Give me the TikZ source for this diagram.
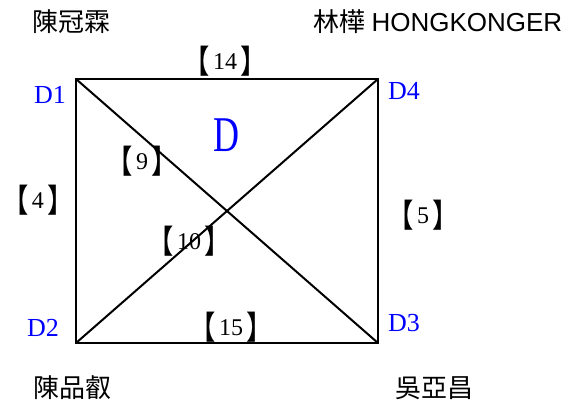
\documentclass[tikz,border=0pt]{standalone}
\usepackage{fontspec}
\setmainfont{Liberation Serif}
\newfontfamily\cjk{Noto Sans CJK TC}
\newfontfamily\arialf{Liberation Sans}
\newcommand\wlb{\raisebox{-3.5pt}{\scalebox{1.1}[1.35]{\cjk 【}}\hspace{3pt}}
\newcommand\wrb{\hspace{3pt}\raisebox{-3.5pt}{\scalebox{1.1}[1.35]{\cjk 】}}}
\begin{document}
\begin{tikzpicture}[x=1pt,y=-1pt,
  edge/.style={line width=2pt,black},
  corner/.style={inner sep=0pt,text=blue,font=\fontsize{26}{26}\selectfont},
  weight/.style={inner sep=0pt,font=\fontsize{24}{24}\selectfont},
  person/.style={inner sep=0pt,font=\fontsize{26}{26}\selectfont\cjk}]
\useasboundingbox (0,0) rectangle (583,407);
\coordinate (D1) at (76,79);
\coordinate (D4) at (378,79);
\coordinate (D2) at (76,343);
\coordinate (D3) at (378,343);
\draw[edge,line join=miter] (D1) -- (D4) -- (D3) -- (D2) -- cycle;
\draw[edge] (D1) -- (D3);
\draw[edge] (D2) -- (D4);
% corner labels
\node[corner] (lD1) at (50,95) {D1};
\node[corner] (lD4) at (404,91) {D4};
\node[corner] (lD2) at (43,328) {D2};
\node[corner] (lD3) at (404,323) {D3};
\node[inner sep=0pt,text=blue,font=\fontsize{50}{50}\selectfont] (bigD) at (226,135) {\scalebox{0.72}[1]{D}};
% weights
\node[weight] (w14) at (225,61) {\wlb 14\wrb};
\node[weight] (w9) at (142,161) {\wlb 9\wrb};
\node[weight] (w4) at (38,200) {\wlb 4\wrb};
\node[weight] (w10) at (189,241) {\wlb 10\wrb};
\node[weight] (w5) at (423,215) {\wlb 5\wrb};
\node[weight] (w15) at (231,327) {\wlb 15\wrb};
% names
\node[person] (p1) at (71,22) {陳冠霖};
\node[person] (p4) at (438,22) {林樺 {\arialf HONGKONGER}};
\node[person] (p2) at (72,388) {陳品叡};
\node[person] (p3) at (434,388) {吳亞昌};
\end{tikzpicture}
\end{document}
